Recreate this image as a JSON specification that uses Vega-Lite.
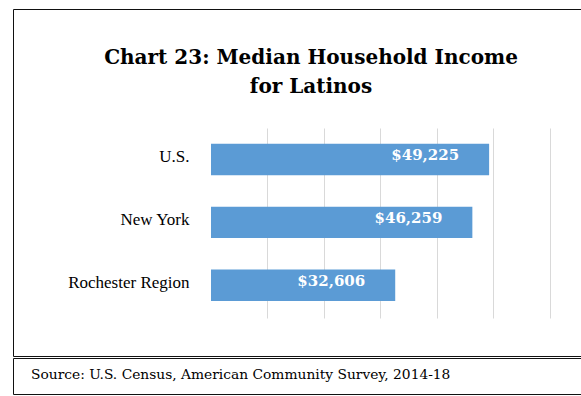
{
  "$schema": "https://vega.github.io/schema/vega-lite/v6.json",
  "padding": {"left": 12, "top": 8, "right": 0, "bottom": 0},
  "background": "white",
  "spacing": 0,
  "config": {"view": {"stroke": "#111", "strokeWidth": 1}},
  "vconcat": [
    {
      "width": 568,
      "height": 347,
      "view": {"stroke": "#111", "strokeWidth": 1},
      "title": {
        "text": ["Chart 23: Median Household Income", "for Latinos"],
        "font": "DejaVu Serif",
        "fontSize": 20,
        "fontWeight": "bold",
        "color": "#000",
        "anchor": "middle",
        "frame": "group",
        "offset": -88,
        "dx": 14,
        "lineHeight": 29
      },
      "data": {
        "values": [
          {"region": "U.S.", "income": 49225},
          {"region": "New York", "income": 46259},
          {"region": "Rochester Region", "income": 32606}
        ]
      },
      "encoding": {
        "y": {
          "field": "region",
          "type": "nominal",
          "sort": null,
          "scale": {"range": [120, 310], "paddingInner": 0.5, "paddingOuter": 0.26, "align": 0.45},
          "axis": {
            "title": null,
            "domain": false,
            "ticks": false,
            "tickSize": 0,
            "offset": -198,
            "labelPadding": 22,
            "labelFont": "Liberation Serif",
            "labelFontSize": 17,
            "labelColor": "#000",
            "labelBaseline": "middle",
            "labelOffset": -2
          }
        },
        "x": {
          "field": "income",
          "type": "quantitative",
          "scale": {"domain": [-35044, 65487], "nice": false, "zero": false},
          "axis": {
            "title": null,
            "labels": false,
            "domain": false,
            "grid": false,
            "values": [10000, 20000, 30000, 40000, 50000, 60000],
            "offset": -38,
            "tickSize": -190,
            "tickColor": "#d9d9d9",
            "tickWidth": 1
          }
        }
      },
      "layer": [
        {"mark": {"type": "bar", "color": "#5B9BD5"}},
        {
          "mark": {
            "type": "text",
            "align": "right",
            "baseline": "middle",
            "dx": -30,
            "dy": -4,
            "font": "DejaVu Serif",
            "fontSize": 15,
            "fontWeight": "bold",
            "color": "white"
          },
          "encoding": {"text": {"field": "income", "type": "quantitative", "format": "$,.0f"}}
        }
      ]
    },
    {
      "width": 568,
      "height": 36,
      "view": {"stroke": "#111", "strokeWidth": 1},
      "data": {"values": [{"note": "Source: U.S. Census, American Community Survey, 2014-18"}]},
      "mark": {
        "type": "text",
        "align": "left",
        "baseline": "middle",
        "dx": 18,
        "dy": -1,
        "font": "DejaVu Serif",
        "fontSize": 13.8,
        "color": "#000"
      },
      "encoding": {
        "x": {"datum": 0, "type": "quantitative", "scale": {"domain": [0, 1]}, "axis": null},
        "text": {"field": "note", "type": "nominal"}
      }
    }
  ]
}
